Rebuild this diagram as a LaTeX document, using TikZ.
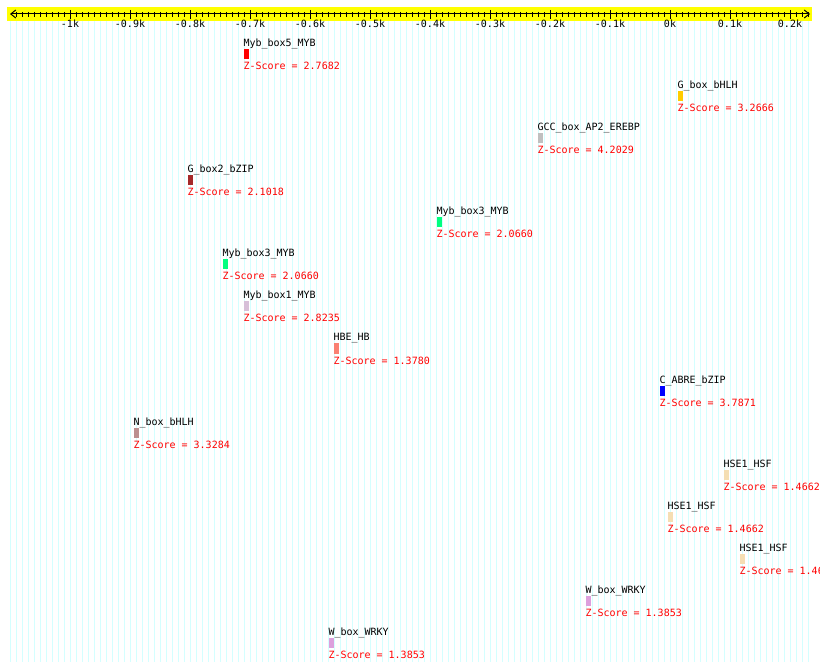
\documentclass[tikz,border=0pt]{standalone}
\usepackage{fontspec}
\setmonofont{DejaVu Sans Mono}
\usetikzlibrary{arrows.meta,positioning}
\definecolor{bandyellow}{RGB}{255,255,0}
\definecolor{gridcyan}{RGB}{212,255,255}
\definecolor{goldbar}{RGB}{255,204,0}
\definecolor{graybar}{RGB}{192,192,192}
\definecolor{brownbar}{RGB}{165,42,42}
\definecolor{greenbar}{RGB}{0,255,127}
\definecolor{thistlebar}{RGB}{216,191,216}
\definecolor{salmonbar}{RGB}{250,128,114}
\definecolor{bluebar}{RGB}{0,0,255}
\definecolor{rosybar}{RGB}{188,143,143}
\definecolor{wheatbar}{RGB}{245,222,179}
\definecolor{plumbar}{RGB}{221,160,221}

\begin{document}
\begin{tikzpicture}[x=1pt,y=-1pt,line width=1pt,
    every node/.style={font=\ttfamily\fontsize{10}{12}\selectfont,inner sep=0pt},
    site/.style={anchor=north west,minimum width=5pt,minimum height=10pt},
    sitename/.style={text=black},
    zscore/.style={text=red},
    gridln/.style={gridcyan,line width=0.9pt}]
    \useasboundingbox (0,0) rectangle (820,671);
    \clip (0,0) rectangle (820,671);
    % ruler band and background grid
    \fill[bandyellow] (7,7) rectangle (812,21);
    \foreach \i in {0,...,133}
      \draw[gridln] ({10+6*\i},21) -- ({10+6*\i},662);
    \coordinate (lend) at (10,14);
    \coordinate (rend) at (810,14);
    \draw[{Straight Barb[length=5pt,width=8pt]}-{Straight Barb[length=5pt,width=8pt]}] (lend) -- (rend);
    \foreach \i in {1,...,133}
      \draw ({10+6*\i},12) -- ({10+6*\i},17);
    \foreach \k/\t in {0/-1k,1/-0.9k,2/-0.8k,3/-0.7k,4/-0.6k,5/-0.5k,6/-0.4k,
                       7/-0.3k,8/-0.2k,9/-0.1k,10/0k,11/0.1k,12/0.2k} {
      \draw ({70+60*\k},10) -- ({70+60*\k},19);
      \node[anchor=base] (tick\k) at ({70+60*\k},28) {\t};
    }
    % binding sites
    \foreach \x/\r/\n/\c/\z in {
        243/0/Myb\_box5\_MYB/red/2.7682,
        677/1/G\_box\_bHLH/goldbar/3.2666,
        537/2/GCC\_box\_AP2\_EREBP/graybar/4.2029,
        187/3/G\_box2\_bZIP/brownbar/2.1018,
        436/4/Myb\_box3\_MYB/greenbar/2.0660,
        222/5/Myb\_box3\_MYB/greenbar/2.0660,
        243/6/Myb\_box1\_MYB/thistlebar/2.8235,
        333/7/HBE\_HB/salmonbar/1.3780,
        659/8/C\_ABRE\_bZIP/bluebar/3.7871,
        133/9/N\_box\_bHLH/rosybar/3.3284,
        723/10/HSE1\_HSF/wheatbar/1.4662,
        667/11/HSE1\_HSF/wheatbar/1.4662,
        739/12/HSE1\_HSF/wheatbar/1.4662,
        585/13/W\_box\_WRKY/plumbar/1.3853,
        328/14/W\_box\_WRKY/plumbar/1.3853} {
      \node[site,fill=\c] (bar\r) at (\x,{49+42*\r}) {};
      \node[sitename,above=2pt of bar\r.north west,anchor=base west] (name\r) {\n};
      \node[zscore,below=10pt of bar\r.south west,anchor=base west] (z\r) {Z-Score = \z};
    }
\end{tikzpicture}
\end{document}
